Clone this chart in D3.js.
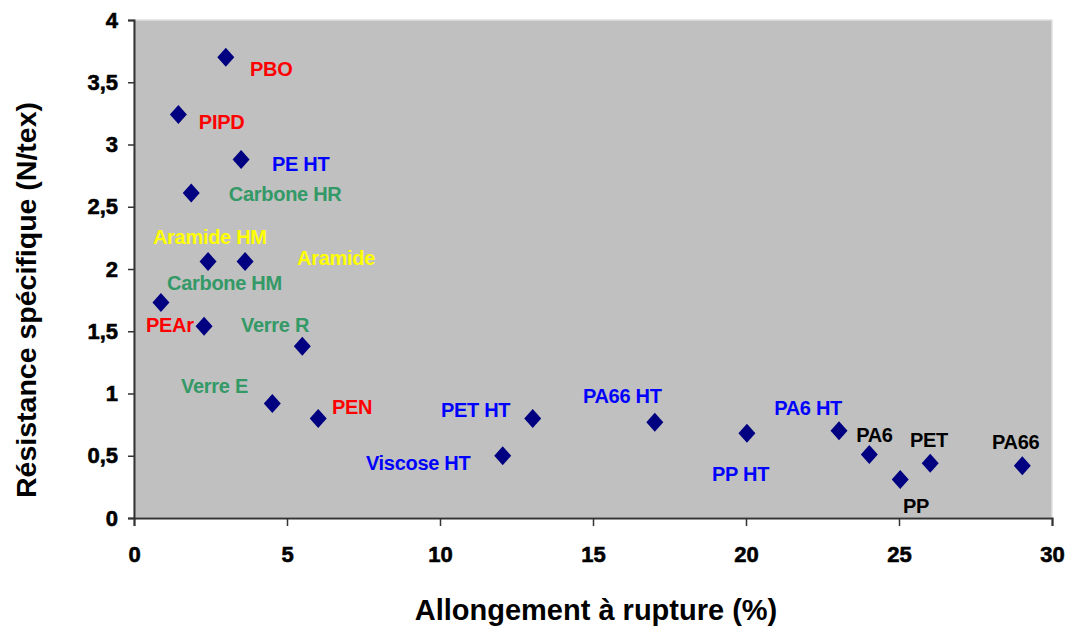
<!DOCTYPE html>
<html><head><meta charset="utf-8">
<script src="https://cdn.jsdelivr.net/npm/d3@7"></script>
<style>body{margin:0;background:#fff}svg{display:block}</style>
</head><body>
<svg id="c" width="1069" height="629"></svg>
<script>
const names = ["PBO","PIPD","PE HT","Carbone HR","Aramide HM","Aramide","Carbone HM","PEAr","Verre R","Verre E","PEN","Viscose HT","PET HT","PA66 HT","PP HT","PA6 HT","PA6","PP","PET","PA66"];
const elong = [3.0,1.45,3.5,1.87,2.42,3.63,0.88,2.29,5.5,4.52,6.02,12.05,13.03,17.02,20.03,23.04,24.03,25.04,26.02,29.03];
const strength = [3.70,3.24,2.88,2.61,2.06,2.06,1.73,1.54,1.38,0.92,0.80,0.50,0.80,0.77,0.68,0.70,0.51,0.31,0.44,0.42];
// label anchor positions (data units) and colour group
const labelX = [3.79,2.12,4.51,3.10,0.62,5.33,1.08,0.39,3.50,1.54,6.47,7.58,10.03,14.67,18.89,20.92,23.60,25.13,25.36,28.04];
const labelY = [3.61,3.18,2.84,2.60,2.26,2.09,1.89,1.55,1.55,1.06,0.89,0.44,0.87,0.98,0.35,0.88,0.67,0.10,0.63,0.61];
const group = ["r","r","b","g","y","y","g","r","g","g","r","b","b","b","b","b","k","k","k","k"];
const xTicks = [0,5,10,15,20,25,30];
const yTicks = [0,0.5,1,1.5,2,2.5,3,3.5,4];
const colors = {r:"#ff0000", b:"#0000ff", g:"#339966", y:"#ffff00", k:"#000000"};

const svg = d3.select("#c");
const L = 134, R = 1052, T = 20, B = 518;
const x = d3.scaleLinear().domain([0,30]).range([L,R]);
const y = d3.scaleLinear().domain([0,4]).range([B,T]);
const fmt = d => String(d).replace(".", ",");

svg.append("rect").attr("x",L).attr("y",T).attr("width",R-L).attr("height",B-T)
  .attr("fill","#c0c0c0").attr("stroke","#e0e0e0").attr("stroke-width",1.5);

const font = "'Liberation Sans', Arial, sans-serif";

const gx = svg.append("g").attr("transform",`translate(0,${B})`)
  .call(d3.axisBottom(x).tickValues(xTicks).tickSize(8).tickPadding(20).tickFormat(fmt));
const gy = svg.append("g").attr("transform",`translate(${L},0)`)
  .call(d3.axisLeft(y).tickValues(yTicks).tickSize(6).tickPadding(10).tickFormat(fmt));
[gx,gy].forEach(g=>{
  g.select(".domain").attr("stroke","#333").attr("stroke-width",2);
  g.selectAll(".tick line").attr("stroke","#333").attr("stroke-width",1.5);
  g.selectAll(".tick text").attr("font-family",font).attr("font-weight","bold")
    .attr("font-size",22).attr("fill","#000").attr("stroke","#000").attr("stroke-width",0.6);
});

const data = names.map((n,i)=>({n, x:elong[i], y:strength[i], lx:labelX[i], ly:labelY[i], g:group[i]}));

const diamond = "M0,-9.5L8.5,0L0,9.5L-8.5,0Z";
svg.append("g").selectAll("path").data(data).join("path")
  .attr("d", diamond)
  .attr("transform", d=>`translate(${x(d.x)},${y(d.y)})`)
  .attr("fill","#000080");

svg.append("g").selectAll("text").data(data).join("text")
  .attr("x", d=>x(d.lx)).attr("y", d=>y(d.ly))
  .attr("dy","0.35em")
  .attr("font-family",font).attr("font-weight","bold").attr("font-size",20)
  .attr("letter-spacing","-0.3")
  .attr("fill", d=>colors[d.g])
  .text(d=>d.n);

svg.append("text").attr("x",596).attr("y",620)
  .attr("text-anchor","middle").attr("font-family",font).attr("font-weight","bold")
  .attr("font-size",29).text("Allongement à rupture (%)");
svg.append("text").attr("transform","translate(36,300) rotate(-90)")
  .attr("text-anchor","middle").attr("font-family",font).attr("font-weight","bold")
  .attr("font-size",28.5).text("Résistance spécifique (N/tex)");
</script>
</body></html>
